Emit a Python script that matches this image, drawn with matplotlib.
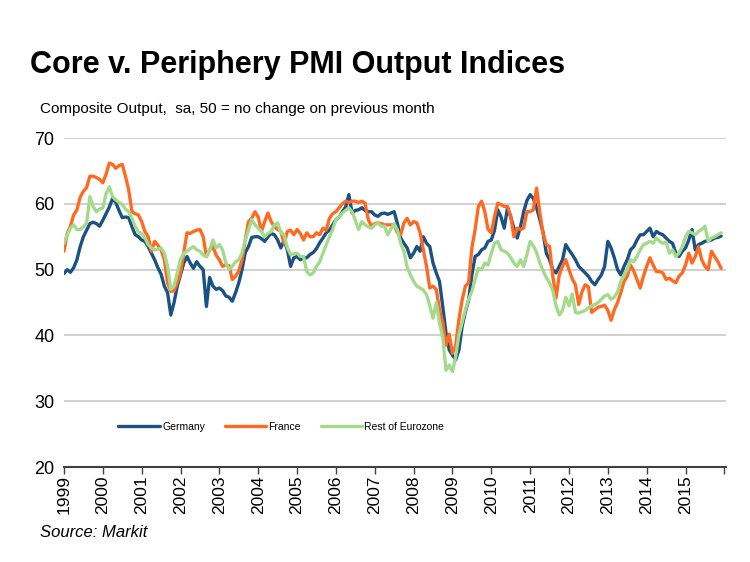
import matplotlib
matplotlib.use("Agg")
import matplotlib.pyplot as plt
import numpy as np

plt.rcParams["font.family"] = ["Liberation Sans", "DejaVu Sans"]

# monthly composite output index, Jan 1999 - Dec 2015
germany = [
    49.4, 50.0, 49.6, 50.3, 51.5, 53.5, 55.0, 56.0, 57.0, 57.2, 57.0, 56.6,  # 1999
    57.5, 58.5, 59.5, 60.8, 60.2, 59.0, 57.9, 58.0, 57.9, 56.5, 55.3, 55.0,  # 2000
    54.5, 54.3, 53.5, 52.5, 51.5, 50.3, 49.3, 47.5, 46.5, 43.1, 45.0, 47.5,  # 2001
    49.2, 51.0, 52.0, 51.0, 50.2, 51.2, 50.5, 50.0, 44.4, 48.8, 47.5, 47.0,  # 2002
    47.2, 46.8, 46.0, 45.8, 45.2, 46.5, 48.0, 50.0, 52.6, 53.5, 54.9, 55.0,  # 2003
    55.0, 54.7, 54.3, 55.0, 55.5, 55.3, 54.5, 53.3, 54.5, 53.0, 50.5, 51.8,  # 2004
    52.0, 51.5, 51.8, 51.8, 52.3, 52.6, 53.2, 54.1, 54.8, 55.6, 56.0, 56.8,  # 2005
    57.6, 58.0, 58.8, 59.5, 61.4, 58.6, 59.0, 59.1, 59.4, 59.0, 58.8, 58.8,  # 2006
    58.3, 58.1, 58.5, 58.6, 58.4, 58.6, 58.8, 57.0, 54.8, 54.0, 53.3, 51.8,  # 2007
    52.5, 53.5, 52.8, 55.0, 54.0, 53.5, 51.0, 49.5, 48.2, 44.4, 40.4, 37.8,  # 2008
    37.0, 36.3, 37.8, 41.4, 43.6, 45.4, 49.2, 52.0, 52.3, 53.0, 53.3, 54.3,  # 2009
    54.5, 56.0, 59.1, 58.0, 56.3, 59.4, 58.0, 56.3, 54.8, 56.5, 58.8, 60.5,  # 2010
    61.4, 60.8, 59.4, 57.6, 55.6, 52.5, 51.5, 50.0, 49.5, 50.5, 51.5, 53.8,  # 2011
    53.0, 52.3, 51.5, 50.5, 50.0, 49.5, 49.0, 48.2, 47.7, 48.5, 49.2, 50.5,  # 2012
    54.3, 53.3, 51.8, 50.0, 49.2, 50.5, 51.5, 53.0, 53.5, 54.5, 55.3, 55.3,  # 2013
    55.8, 56.3, 55.0, 55.8, 55.5, 55.3, 54.8, 54.3, 54.0, 52.5, 52.0, 52.8,  # 2014
    53.3, 54.5, 56.1, 53.0, 53.8, 54.0, 54.3, 54.4, 54.5, 54.8, 54.9, 55.1,  # 2015
]
france = [
    52.8, 55.5, 56.6, 58.3, 59.1, 61.0, 61.9, 62.5, 64.2, 64.2, 64.0, 63.7,
    63.2, 64.5, 66.2, 66.0, 65.4, 65.8, 66.0, 64.2, 62.1, 58.8, 58.5, 58.3,
    57.3, 55.8, 55.0, 52.8, 54.3, 53.7, 53.0, 51.5, 48.0, 46.7, 46.8, 48.0,
    49.5, 52.5, 55.6, 55.5, 55.8, 56.0, 56.1, 55.0, 52.0, 53.0, 53.5, 52.2,
    51.5, 50.5, 50.7, 50.6, 48.5, 49.0, 49.8, 51.5, 54.5, 57.3, 57.8, 58.8,
    58.0, 55.8, 57.3, 58.6, 57.3, 56.5, 56.1, 55.8, 54.0, 55.8, 56.0, 55.3,
    56.1, 55.5, 54.5, 55.6, 55.0, 55.0, 55.6, 55.3, 56.3, 56.0, 57.8, 58.5,
    58.8, 59.4, 60.0, 60.4, 60.2, 60.4, 60.4, 60.2, 60.4, 60.1, 57.6, 56.6,
    57.0, 57.1, 57.0, 56.8, 56.8, 56.8, 56.8, 55.6, 55.3, 57.1, 57.8, 56.8,
    57.3, 57.1, 55.6, 53.0, 50.5, 47.2, 47.5, 47.0, 43.9, 42.0, 38.5, 40.2,
    37.3, 38.5, 42.4, 45.4, 47.5, 48.0, 53.3, 56.1, 59.6, 60.4, 58.8, 56.1,
    55.6, 58.1, 60.1, 59.9, 59.6, 59.6, 58.1, 55.0, 56.3, 56.1, 56.3, 58.8,
    58.8, 59.1, 62.4, 58.6, 55.5, 53.8, 53.5, 49.0, 45.7, 49.2, 50.5, 51.5,
    50.0, 48.6, 47.7, 44.7, 46.6, 47.7, 47.4, 43.5, 43.9, 44.3, 44.4, 44.6,
    43.8, 42.3, 43.9, 45.0, 46.5, 48.2, 49.0, 50.7, 49.8, 48.5, 47.2, 49.0,
    50.5, 51.8, 50.7, 49.7, 49.7, 49.5, 48.5, 48.7, 48.3, 48.0, 49.0, 49.5,
    50.7, 52.5, 51.0, 52.0, 53.5, 51.5, 50.5, 50.0, 52.8, 52.0, 51.2, 50.2,
]
rest = [
    54.0, 55.3, 56.3, 56.8, 56.1, 56.1, 56.5, 57.1, 61.1, 59.6, 58.8, 59.2,
    59.4, 61.5, 62.6, 61.1, 60.6, 60.2, 59.9, 59.2, 58.8, 57.8, 56.6, 55.7,
    55.5, 54.8, 53.8, 53.3, 53.0, 53.1, 53.3, 52.5, 50.5, 47.0, 47.5, 49.5,
    51.5, 52.5, 52.8, 53.2, 53.5, 53.0, 52.8, 52.2, 52.0, 53.0, 54.5, 53.3,
    53.8, 53.0, 51.0, 50.0, 50.5, 51.2, 51.5, 52.5, 54.5, 56.0, 57.6, 56.8,
    56.3, 55.8, 55.0, 55.5, 55.8, 56.8, 57.1, 55.6, 55.3, 53.3, 52.3, 52.4,
    52.5, 52.0, 52.0, 49.7, 49.2, 49.5, 50.5, 51.2, 52.5, 53.8, 55.0, 56.1,
    57.6, 58.0, 58.6, 59.0, 59.4, 58.8, 57.5, 56.1, 57.3, 56.8, 56.5, 56.3,
    56.8, 57.1, 56.6, 56.6, 55.3, 56.2, 57.0, 56.0, 54.0, 52.8, 50.4, 49.2,
    48.2, 47.5, 47.2, 46.9, 46.2, 44.5, 42.6, 45.0, 41.9, 39.8, 34.7, 35.5,
    34.5, 36.8, 40.1, 42.0, 43.9, 45.5, 46.7, 48.5, 50.2, 50.0, 51.0, 50.7,
    52.5, 54.0, 54.3, 53.0, 52.8, 52.5, 51.8, 51.0, 50.5, 51.5, 50.5, 52.3,
    54.3, 53.6, 52.6, 51.0, 49.8, 48.8, 48.0, 46.8, 44.5, 43.1, 43.8, 45.8,
    44.5, 46.3, 43.5, 43.4, 43.6, 43.8, 44.2, 44.5, 44.7, 45.0, 45.5, 46.0,
    46.2, 45.5, 45.8, 46.6, 48.2, 49.2, 50.0, 51.5, 51.2, 52.0, 53.0, 53.8,
    54.0, 54.3, 54.0, 54.8, 54.3, 54.0, 54.2, 52.5, 53.0, 52.0, 52.5, 53.5,
    55.0, 55.8, 55.6, 55.3, 55.8, 56.1, 56.6, 54.3, 54.8, 55.0, 55.3, 55.6,
]
years = list(range(1999, 2016))

series = [("Germany", germany, "#1b5183"),
          ("France", france, "#ff6a22"),
          ("Rest of Eurozone", rest, "#a4da8c")]

fig = plt.figure(figsize=(7.5, 5.62), dpi=100)
ax = fig.add_axes([0.0853, 0.169, 0.8827, 0.5854])

for name, vals, col in series:
    ax.plot(np.arange(len(vals)), vals, color=col, lw=2.4, label=name,
            solid_joinstyle="round", solid_capstyle="round")

ax.set_xlim(0, 204.5)
ax.set_ylim(20, 70)
ax.set_yticks(range(20, 71, 10))
ax.yaxis.grid(True, color="#c8c8c8", lw=1.2)
ax.set_axisbelow(True)
ax.tick_params(axis="y", length=0, labelsize=13, pad=7)

ax.set_xticks(np.arange(0, 205, 12))
ax.set_xticklabels([str(y) for y in years] + [""])
ax.tick_params(axis="x", length=5, width=1, color="#404040", direction="out",
               pad=1, labelrotation=90, labelsize=12.5)

for s in ["top", "right", "left"]:
    ax.spines[s].set_visible(False)
ax.spines["bottom"].set_color("#404040")
ax.spines["bottom"].set_linewidth(1.5)

leg = ax.legend(loc="center left", bbox_to_anchor=(0.082, 0.122), ncol=3, frameon=False,
                fontsize=7.5, handlelength=4.0, handletextpad=0.2, columnspacing=1.9,
                borderaxespad=0, borderpad=0)

fig.text(0.04, 0.87, "Core v. Periphery PMI Output Indices", fontsize=22,
         fontweight="bold", va="baseline")
fig.text(0.053, 0.799, "Composite Output,  sa, 50 = no change on previous month",
         fontsize=11, va="baseline")
fig.text(0.053, 0.045, "Source: Markit", fontsize=12, style="italic", va="baseline")

fig.savefig("out.png", dpi=100, facecolor="white")
